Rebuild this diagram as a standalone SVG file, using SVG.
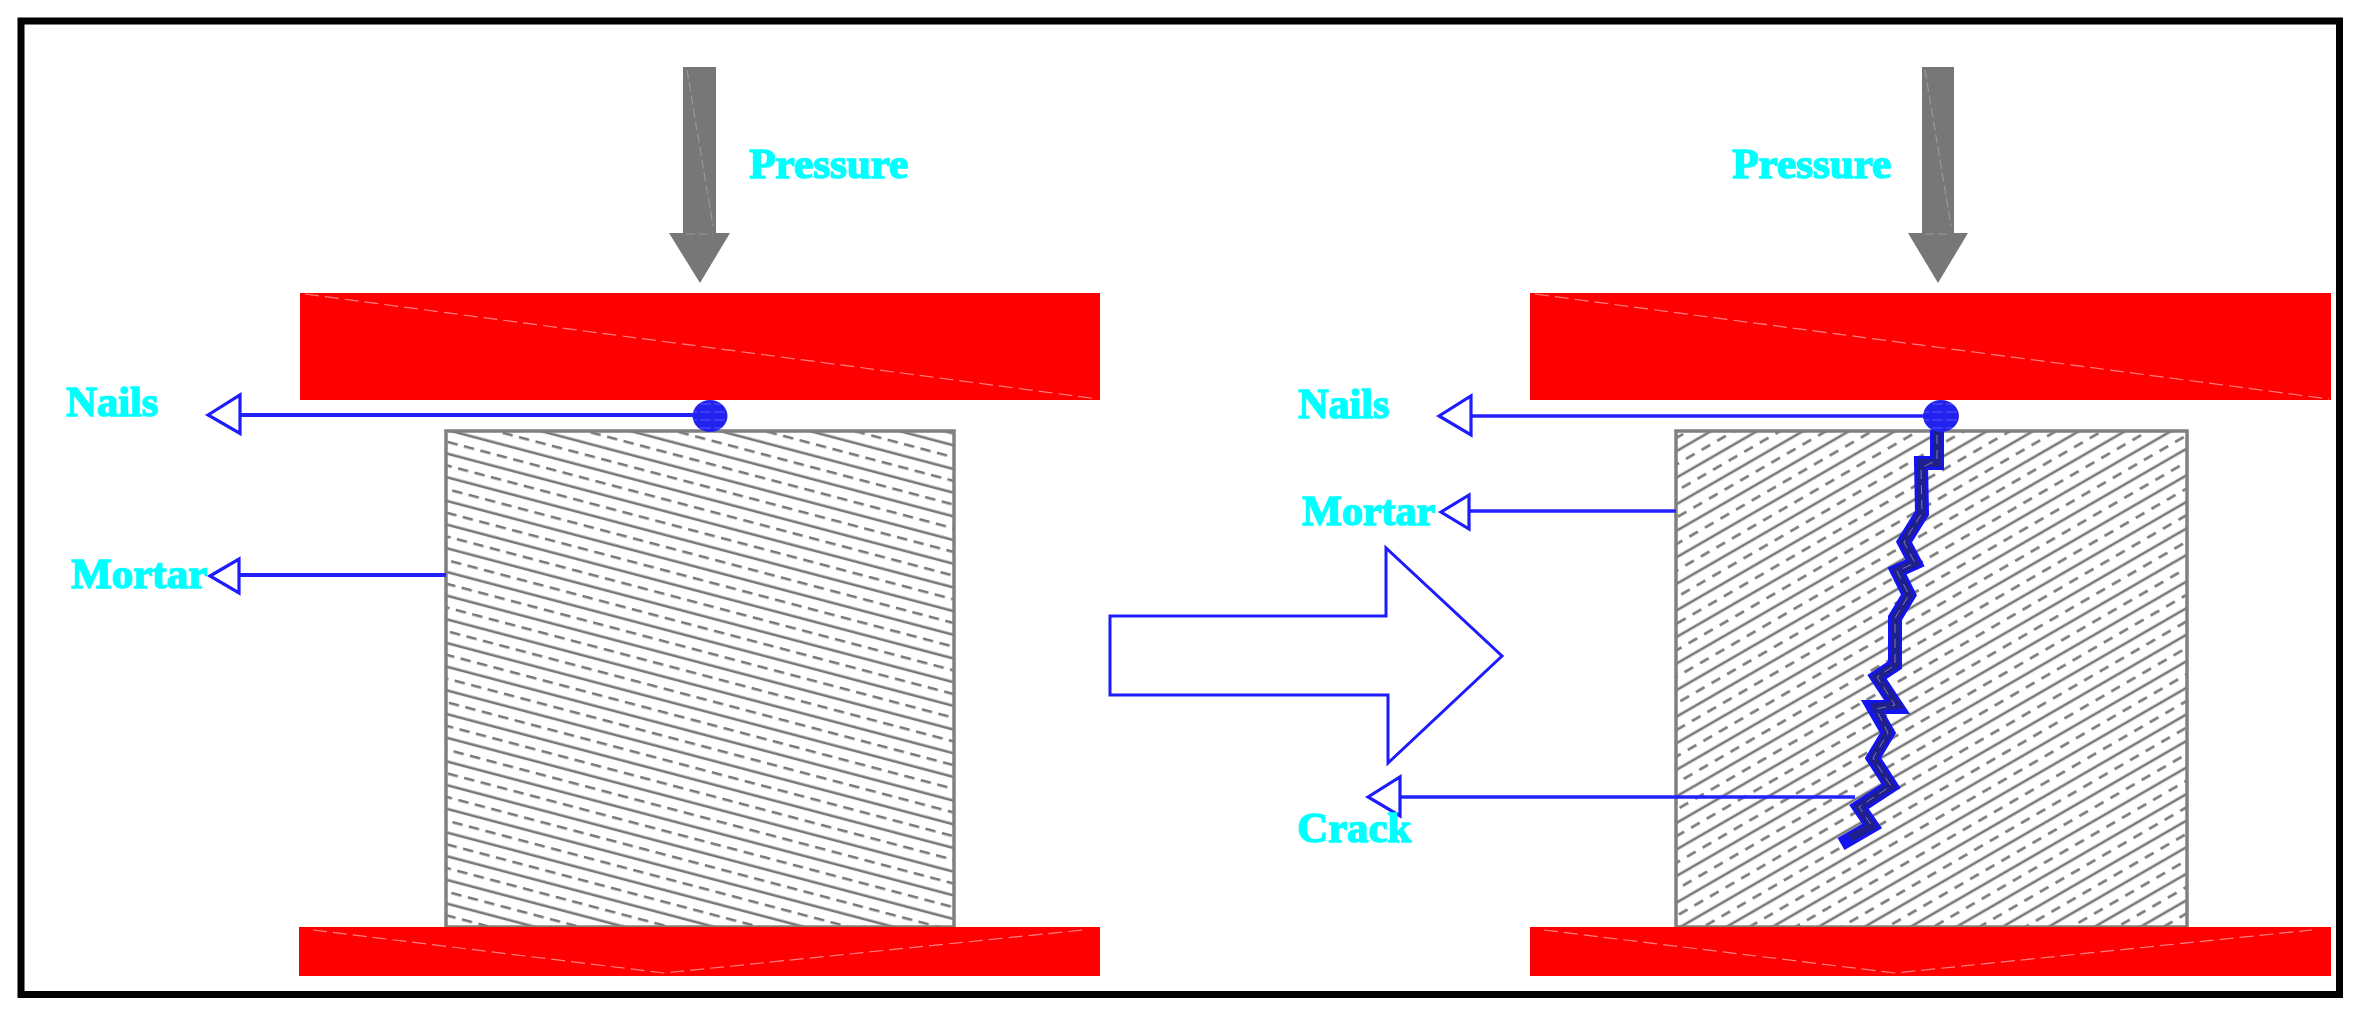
<svg xmlns="http://www.w3.org/2000/svg" width="2359" height="1019" viewBox="0 0 2359 1019">
<style>
text{font-family:"Liberation Serif","Times New Roman",serif;font-weight:bold;font-size:42px;fill:#00ffff;stroke:#00ffff;stroke-width:1.5px}
.hatch{stroke:#777777;stroke-width:2.6;fill:none}
.box{stroke:#808080;stroke-width:3.5;fill:none}
.press{fill:#ff0000}
.seam{stroke:#ff8080;stroke-width:1.2;stroke-dasharray:14 6;fill:none}
.gseam{stroke:#989898;stroke-width:1.2;stroke-dasharray:9 4;fill:none}
.arr{fill:#777777}
.lead{stroke:#2222ff;stroke-width:4;fill:none}
.leadr{stroke:#2222ff;stroke-width:3.4;fill:none}
.head{stroke:#1c1cff;stroke-width:3.2;fill:#ffffff}
.crack1{stroke:#1414f0;stroke-width:14;fill:none;stroke-linejoin:miter;stroke-miterlimit:3}
.crack2{stroke:#20208c;stroke-width:8;fill:none;stroke-linejoin:miter;stroke-miterlimit:3}
.crack3{stroke:#7c7cb0;stroke-width:1;stroke-dasharray:9 6;fill:none}
</style>
<defs>
<pattern id="hatchL" patternUnits="userSpaceOnUse" width="17" height="22.900" patternTransform="translate(446,447.400) rotate(14.800)">
<line class="hatch" x1="0" y1="5.750" x2="17" y2="5.750"/>
<line class="hatch" x1="0" y1="17.200" x2="10.500" y2="17.200"/>
</pattern>
<pattern id="hatchR" patternUnits="userSpaceOnUse" width="18" height="23" patternTransform="translate(1676,445.600) rotate(-30)">
<line class="hatch" x1="0" y1="5" x2="18" y2="5"/>
<line class="hatch" x1="2" y1="16.500" x2="12" y2="16.500"/>
</pattern>
<pattern id="nailFill" patternUnits="userSpaceOnUse" width="14" height="8">
<rect width="14" height="8" fill="#2222ee"/>
<line x1="0" y1="4" x2="11" y2="4" stroke="#4e4eff" stroke-width="1.2"/>
</pattern>
</defs>
<rect width="2359" height="1019" fill="#ffffff"/>
<rect id="frame" x="21" y="21" width="2318.500" height="973.500" fill="none" stroke="#000000" stroke-width="7"/>

<g id="left-top-plate"><rect class="press" x="300" y="293" width="800" height="107"/><line class="seam" x1="305" y1="294" x2="1098" y2="399"/></g>
<g id="left-specimen"><rect x="446" y="431" width="508" height="496" fill="url(#hatchL)"/><rect class="box" x="446" y="431" width="508" height="496"/></g>
<g id="left-bottom-plate"><rect class="press" x="299" y="927" width="801" height="49"/><polyline class="seam" points="313,930 664,973 1083,930"/></g>
<g id="left-pressure-arrow"><polygon class="arr" points="683,67 716,67 716,233 730,233 700,283 669,233 683,233"/><polyline class="gseam" points="687,70 713,226"/><line class="gseam" x1="686" y1="234" x2="713" y2="234"/></g>
<g id="left-nail"><ellipse cx="710" cy="416" rx="17.500" ry="16" fill="url(#nailFill)"/></g>

<g id="right-top-plate"><rect class="press" x="1530" y="293" width="801" height="107"/><line class="seam" x1="1535" y1="294" x2="2329" y2="399"/></g>
<g id="right-specimen"><rect x="1676" y="431" width="511" height="496" fill="url(#hatchR)"/><rect class="box" x="1676" y="431" width="511" height="496"/></g>
<g id="right-bottom-plate"><rect class="press" x="1530" y="927" width="801" height="49"/><polyline class="seam" points="1544,930 1895,973 2312,930"/></g>
<g id="right-pressure-arrow"><polygon class="arr" points="1922,67 1954,67 1954,233 1968,233 1938,283 1908,233 1922,233"/><polyline class="gseam" points="1925,70 1951,226"/><line class="gseam" x1="1925" y1="234" x2="1951" y2="234"/></g>
<g id="crack">
<polyline class="crack1" points="1937,430 1937,463 1921,463 1922,513 1904,542 1915,563 1897,571 1909,595 1895,618 1895,665 1877,677 1897,707 1873,707 1888,733 1873,758 1891,786 1859,807 1872,826 1841,844"/>
<polyline class="crack2" points="1937,430 1937,463 1921,463 1922,513 1904,542 1915,563 1897,571 1909,595 1895,618 1895,665 1877,677 1897,705 1876,707 1888,733 1873,758 1891,786 1859,807 1872,826 1850,838"/>
<polyline class="crack3" points="1937,435 1937,460 1921,468 1922,513 1904,542 1915,563 1897,571 1909,595 1895,618 1895,665 1877,677 1895,705 1876,709 1888,733 1873,758 1891,786 1859,807 1872,826"/>
</g>
<g id="right-nail"><ellipse cx="1941" cy="416" rx="18" ry="16" fill="url(#nailFill)"/></g>

<g id="connectors">
<line class="lead" x1="239" y1="415" x2="695" y2="415"/><polygon class="head" points="208,415 240,395 240,433.500"/>
<line class="lead" x1="239" y1="575" x2="446" y2="575"/><polygon class="head" points="210,576 239,559 239,593"/>
<line class="leadr" x1="1470" y1="416" x2="1925" y2="416"/><polygon class="head" points="1439,416 1471,396 1471,435"/>
<line class="leadr" x1="1468" y1="511" x2="1676" y2="511"/><polygon class="head" points="1441,512 1469,495 1469,529"/>
<line class="leadr" x1="1400" y1="797" x2="1855" y2="797"/><polygon class="head" points="1368,797 1400,777 1400,816"/>
</g>
<g id="transition-arrow"><polygon fill="none" stroke="#1c1cff" stroke-width="3" points="1110,616 1386,616 1386,548 1502,656 1388,763 1388,695 1110,695"/></g>

<g id="label-pressure-left"><text x="749" y="178" textLength="159" lengthAdjust="spacingAndGlyphs">Pressure</text></g>
<g id="label-pressure-right"><text x="1732" y="178" textLength="159" lengthAdjust="spacingAndGlyphs">Pressure</text></g>
<g id="label-nails-left"><text x="66" y="416" textLength="92" lengthAdjust="spacingAndGlyphs">Nails</text></g>
<g id="label-mortar-left"><text x="71" y="588" textLength="136" lengthAdjust="spacingAndGlyphs">Mortar</text></g>
<g id="label-nails-right"><text x="1298" y="418" textLength="91" lengthAdjust="spacingAndGlyphs">Nails</text></g>
<g id="label-mortar-right"><text x="1302" y="525" textLength="133" lengthAdjust="spacingAndGlyphs">Mortar</text></g>
<g id="label-crack"><text x="1297" y="842" textLength="114" lengthAdjust="spacingAndGlyphs">Crack</text></g>
</svg>
